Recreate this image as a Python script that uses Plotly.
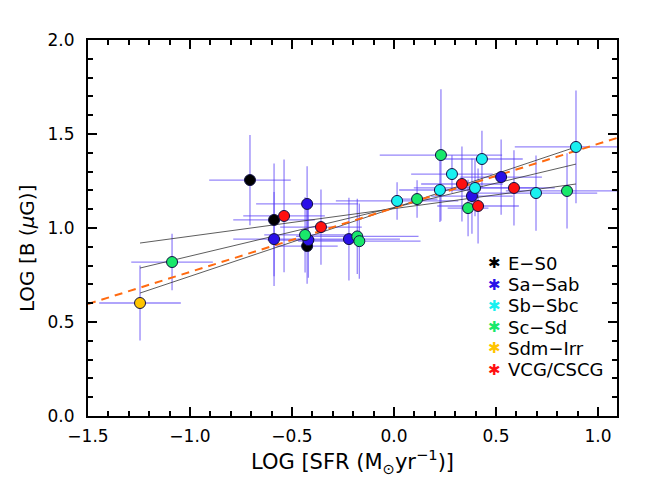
import plotly.graph_objects as go

# galaxy classes
groups = ["E-S0", "Sa-Sab", "Sb-Sbc", "Sc-Sd", "Sdm-Irr", "VCG/CSCG"]
colors = ["#000000", "#2a10e8", "#19f0f0", "#19e86a", "#ffc400", "#ff1010"]
legend_text = ["E\u2212S0", "Sa\u2212Sab", "Sb\u2212Sbc", "Sc\u2212Sd", "Sdm\u2212Irr", "VCG/CSCG"]

# log SFR, log B and their errors per class
sfr_es0 = [-0.706, -0.588, -0.426]
b_es0 = [1.255, 1.043, 0.904]
sfr_es0_err = [0.2, 0.2, 0.15]
b_es0_err = [0.24, 0.3, 0.2]

sfr_sa = [-0.588, -0.426, -0.42, -0.221, 0.382, 0.525]
b_sa = [0.941, 1.128, 0.936, 0.941, 1.17, 1.271]
sfr_sa_err = [0.2, 0.25, 0.2, 0.25, 0.2, 0.2]
b_sa_err = [0.25, 0.2, 0.2, 0.22, 0.2, 0.2]

sfr_sb = [0.015, 0.225, 0.284, 0.397, 0.431, 0.696, 0.892]
b_sb = [1.144, 1.202, 1.287, 1.213, 1.367, 1.186, 1.431]
sfr_sb_err = [0.3, 0.2, 0.2, 0.3, 0.2, 0.3, 0.3]
b_sb_err = [0.1, 0.17, 0.1, 0.15, 0.15, 0.2, 0.3]

sfr_sc = [-1.088, -0.436, -0.18, -0.17, 0.113, 0.23, 0.363, 0.848]
b_sc = [0.819, 0.963, 0.955, 0.93, 1.154, 1.388, 1.106, 1.197]
sfr_sc_err = [0.2, 0.2, 0.3, 0.3, 0.1, 0.3, 0.1, 0.3]
b_sc_err = [0.15, 0.2, 0.2, 0.2, 0.1, 0.35, 0.15, 0.2]

sfr_sdm = [-1.245]
b_sdm = [0.601]
sfr_sdm_err = [0.2]
b_sdm_err = [0.2]

sfr_vcg = [-0.539, -0.358, 0.333, 0.412, 0.588]
b_vcg = [1.064, 1.005, 1.234, 1.117, 1.213]
sfr_vcg_err = [0.2, 0.2, 0.2, 0.2, 0.2]
b_vcg_err = [0.3, 0.2, 0.2, 0.2, 0.2]

# fit lines (end points)
fit_x = [-1.5, 1.093]
fit_y = [0.596, 1.479]
env_x = [-1.245, 0.892]
env_y = [[0.920, 1.234], [0.787, 1.340], [0.654, 1.431]]

data = [
    (sfr_es0, b_es0, sfr_es0_err, b_es0_err),
    (sfr_sa, b_sa, sfr_sa_err, b_sa_err),
    (sfr_sb, b_sb, sfr_sb_err, b_sb_err),
    (sfr_sc, b_sc, sfr_sc_err, b_sc_err),
    (sfr_sdm, b_sdm, sfr_sdm_err, b_sdm_err),
    (sfr_vcg, b_vcg, sfr_vcg_err, b_vcg_err),
]

font = "DejaVu Sans, Arial, sans-serif"
fig = go.Figure()

# error bars first
errc = "rgba(85,60,245,0.62)"
for x, y, xe, ye in data:
    fig.add_trace(go.Scatter(
        x=x, y=y, mode="markers", marker=dict(size=1, opacity=0), showlegend=False,
        error_x=dict(type="data", array=xe, color=errc, thickness=1.3, width=0),
        error_y=dict(type="data", array=ye, color=errc, thickness=1.3, width=0),
        hoverinfo="skip"))

for ys in env_y:
    fig.add_trace(go.Scatter(x=env_x, y=ys, mode="lines", showlegend=False,
                             line=dict(color="#333333", width=0.8)))

fig.add_trace(go.Scatter(x=fit_x, y=fit_y, mode="lines", showlegend=False,
                         line=dict(color="#ff6a10", width=2, dash="8px,6px")))

for (x, y, xe, ye), c in zip(data, colors):
    fig.add_trace(go.Scatter(x=x, y=y, mode="markers", showlegend=False,
                             marker=dict(color=c, size=11, line=dict(color="#101040", width=1))))

# legend drawn as annotations (paper coords)
for i, (name, c) in enumerate(zip(legend_text, colors)):
    yy = 0.406 - i * 0.0565
    fig.add_annotation(xref="paper", yref="paper", x=0.769, y=yy, text="\u2731",
                       showarrow=False, xanchor="center", yanchor="middle",
                       font=dict(family=font, size=15, color=c))
    fig.add_annotation(xref="paper", yref="paper", x=0.79, y=yy, text=name,
                       showarrow=False, xanchor="left", yanchor="middle",
                       font=dict(family=font, size=18, color="black"))

# y-axis title
fig.add_annotation(xref="paper", yref="paper", x=-0.115, y=0.447, textangle=-90,
                   text="LOG [B (<i>\u03bc</i>G)]", showarrow=False,
                   xanchor="center", yanchor="middle",
                   font=dict(family=font, size=20, color="black"))

axis_common = dict(showgrid=False, zeroline=False, showline=True, linecolor="black",
                   linewidth=2, mirror="ticks", ticks="inside", ticklen=9, tickwidth=2,
                   tickcolor="black", tickformat=".1f", automargin=False,
                   tickfont=dict(family=font, size=17, color="black"))

fig.update_layout(
    width=657, height=500,
    margin=dict(l=80, r=48, t=32, b=92, autoexpand=False),
    paper_bgcolor="white", plot_bgcolor="white",
    xaxis=dict(range=[-1.5, 1.093], dtick=0.5, tick0=-1.5,
               minor=dict(dtick=0.1, ticks="inside", ticklen=5, tickwidth=1.5, tickcolor="black"),
               title=dict(text="LOG [SFR (M<sub>\u2299</sub>yr<sup>\u22121</sup>)]",
                          font=dict(family=font, size=21, color="black"), standoff=4),
               ticklabelstandoff=4,
               **axis_common),
    yaxis=dict(range=[0, 2], dtick=0.5, tick0=0,
               minor=dict(dtick=0.1, ticks="inside", ticklen=5, tickwidth=1.5, tickcolor="black"),
               ticklabelstandoff=8,
               **axis_common),
    showlegend=False,
)

fig.write_html("out.html")
